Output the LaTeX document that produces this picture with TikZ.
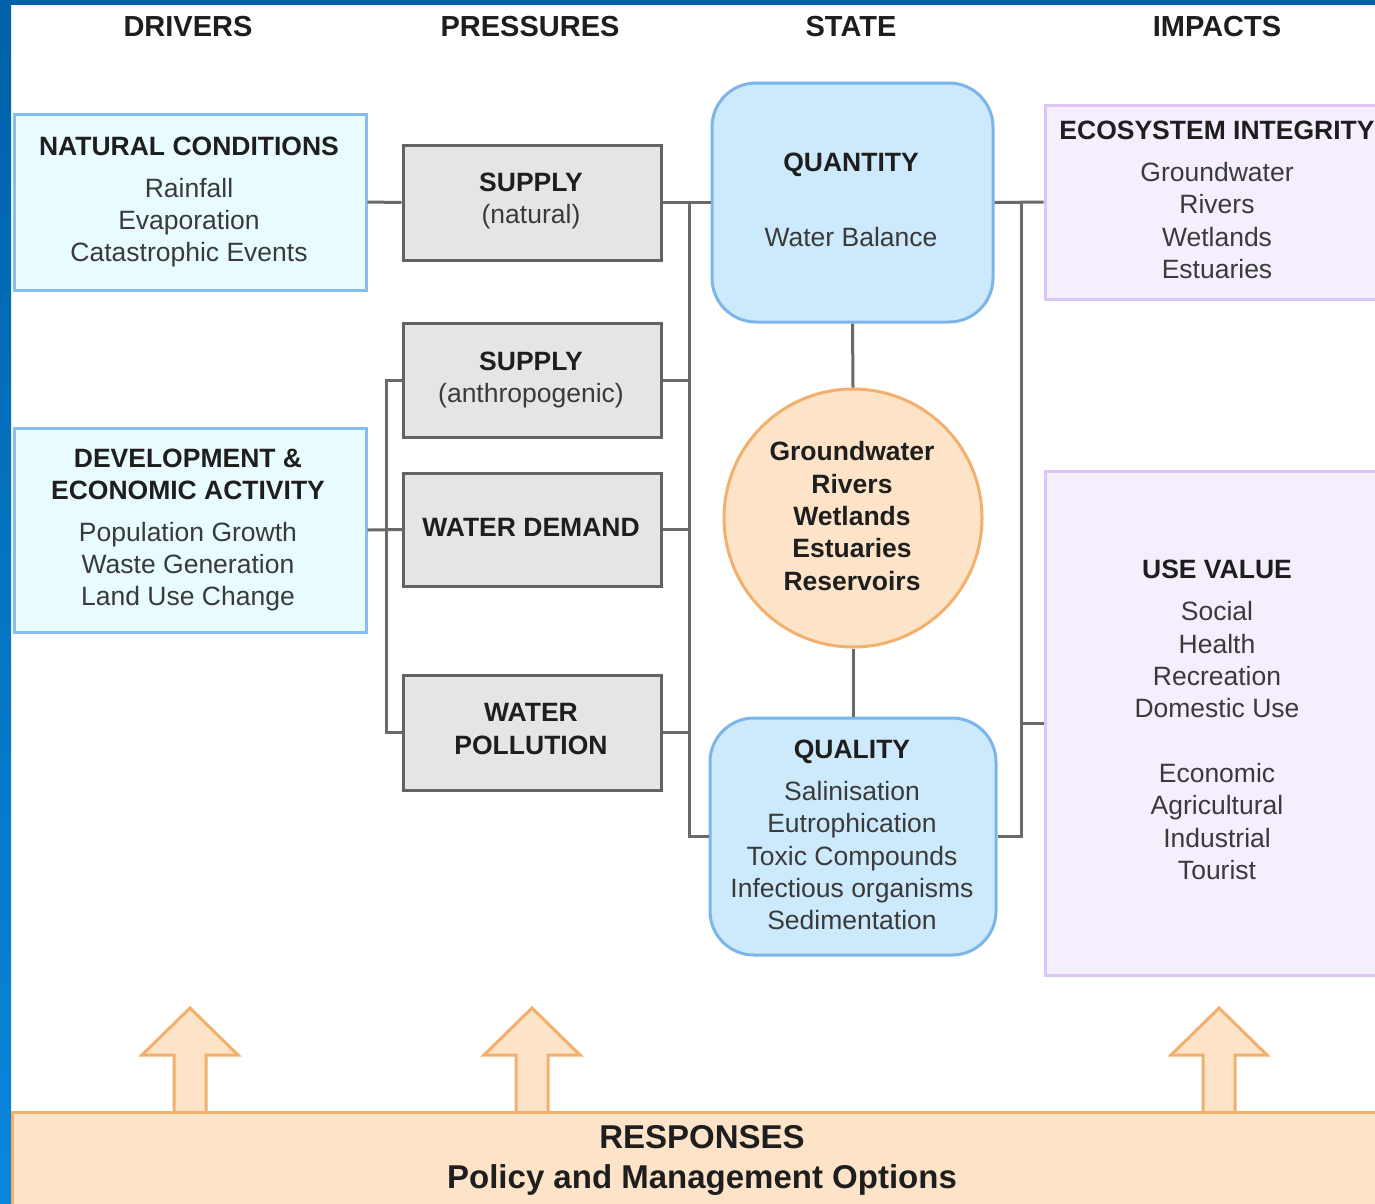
\documentclass[tikz,border=0pt]{standalone}
\usepackage{fontspec}
\setmainfont{Liberation Sans}
\definecolor{frameA}{HTML}{0062AA}
\definecolor{frameB}{HTML}{0A86DC}
\definecolor{ink}{HTML}{1E1E1E}
\definecolor{txtgray}{HTML}{3A3A3A}
\definecolor{conncol}{HTML}{6A6A6A}
\definecolor{cyanfill}{HTML}{E8FBFF}
\definecolor{cyanline}{HTML}{86BEF0}
\definecolor{grayfill}{HTML}{E5E5E5}
\definecolor{grayline}{HTML}{636363}
\definecolor{bluefill}{HTML}{CCEAFC}
\definecolor{blueline}{HTML}{7CB5EA}
\definecolor{orfill}{HTML}{FDE4C8}
\definecolor{orline}{HTML}{F2B06C}
\definecolor{purfill}{HTML}{F5EEFD}
\definecolor{purline}{HTML}{DCC6F3}
\newcommand{\boxttl}[1]{{\bfseries\color{ink}#1}}
\begin{document}
\begin{tikzpicture}[x=1pt,y=-1pt,
  conn/.style={draw=conncol,line width=3pt},
  natbox/.style={draw=cyanline,fill=cyanfill,line width=3pt,inner sep=0pt,minimum width=352pt},
  presbox/.style={draw=grayline,fill=grayfill,line width=3pt,inner sep=0pt,minimum width=258pt},
  statebox/.style={draw=blueline,fill=bluefill,line width=3pt,rounded corners=44pt,inner sep=0pt},
  impbox/.style={draw=purline,fill=purfill,line width=3pt,inner sep=0pt,minimum width=350pt},
  txt/.style={align=center,inner sep=0pt,text=txtgray,font=\fontsize{26.5}{32.3}\selectfont},
  hdr/.style={inner sep=0pt,text=ink,font=\fontsize{29}{34}\selectfont\bfseries},
  uparrow/.style={draw=orline,fill=orfill,line width=3pt,line join=miter}]
\useasboundingbox (0,0) rectangle (1375,1203);
\begin{scope}
\clip (0,0) rectangle (1375,1203);
\fill[white] (0,0) rectangle (1375,1203);
% frame
\shade[top color=frameA,bottom color=frameB] (0,0) rectangle (11,1203);
\fill[frameA] (0,0) rectangle (1375,5);
% headers
\node[hdr] (hdrv) at (188,27) {DRIVERS};
\node[hdr] (hprs) at (530,27) {PRESSURES};
\node[hdr] (hsta) at (851,27) {STATE};
\node[hdr] (himp) at (1217,27) {IMPACTS};
% drivers
\node[natbox,minimum height=176pt] (nat) at (190,202) {};
\node[natbox,minimum height=204pt] (dev) at (190,530) {};
% pressures
\node[presbox,minimum height=115pt] (supnat) at (532,202.5) {};
\node[presbox,minimum height=114pt] (supant) at (532,380) {};
\node[presbox,minimum height=113pt] (dem) at (532,529.5) {};
\node[presbox,minimum height=115pt] (poll) at (532,732.5) {};
% state
\node[statebox,minimum width=281pt,minimum height=239pt] (quant) at (852.5,202.5) {};
\node[circle,draw=orline,fill=orfill,line width=3pt,minimum size=258pt,inner sep=0pt] (circ) at (853,518) {};
\node[statebox,minimum width=286pt,minimum height=237pt] (qual) at (853,836.5) {};
% impacts
\node[impbox,minimum height=194pt] (eco) at (1220,202) {};
\node[impbox,minimum height=504pt] (use) at (1220,723) {};
% connectors
\draw[conn] (nat.east) -- (supnat.west);
\draw[conn] (dev.east) -- (dem.west);
\coordinate (busL) at (386,380);
\coordinate (busR) at (689,202);
\coordinate (busI) at (1021,202);
\draw[conn] (supant.west) -- (supant.west -| busL) |- (poll.west);
\draw[conn] (dem.west -| busL) -- (dem.west);
\draw[conn] (supnat.east) -- (quant.west);
\draw[conn] (supnat.east -| busR) |- (qual.west);
\draw[conn] (supant.east) -- (supant.east -| busR);
\draw[conn] (dem.east) -- (dem.east -| busR);
\draw[conn] (poll.east) -- (poll.east -| busR);
\draw[conn] (quant.east) -- (eco.west);
\draw[conn] (quant.east -| busI) |- (qual.east);
\draw[conn] (use.west -| busI) -- (use.west);
\draw[conn] (quant.south) -- (circ.north);
\draw[conn] (circ.south) -- (qual.north);
% texts
\node[txt] (tnat) at (189,202) {\boxttl{NATURAL CONDITIONS}\\[9.5pt]Rainfall\\Evaporation\\Catastrophic Events};
\node[txt] (tdev) at (188,530) {\boxttl{DEVELOPMENT \&}\\\boxttl{ECONOMIC ACTIVITY}\\[9.5pt]Population Growth\\Waste Generation\\Land Use Change};
\node[txt] (tsupnat) at (531,201) {\boxttl{SUPPLY}\\(natural)};
\node[txt] (tsupant) at (531,380) {\boxttl{SUPPLY}\\(anthropogenic)};
\node[txt] (tdem) at (531,527) {\boxttl{WATER DEMAND}};
\node[txt] (tpoll) at (531,729) {\boxttl{WATER}\\\boxttl{POLLUTION}};
\node[txt] (tquant) at (851,200) {\boxttl{QUANTITY}\\[42.7pt]Water Balance};
\node[txt,text=ink,font=\fontsize{26.5}{32.3}\selectfont\bfseries] (tcirc) at (852,516) {Groundwater\\Rivers\\Wetlands\\Estuaries\\Reservoirs};
\node[txt] (tqual) at (852,835) {\boxttl{QUALITY}\\[9.7pt]Salinisation\\Eutrophication\\Toxic Compounds\\Infectious organisms\\Sedimentation};
\node[txt] (teco) at (1217,200) {\boxttl{ECOSYSTEM INTEGRITY}\\[9.7pt]Groundwater\\Rivers\\Wetlands\\Estuaries};
\node[txt] (tuse) at (1217,720) {\boxttl{USE VALUE}\\[9.7pt]Social\\Health\\Recreation\\Domestic Use\\[32.3pt]Economic\\Agricultural\\Industrial\\Tourist};
% response arrows
\draw[uparrow] (174,1114) -- (174,1055) -- (142,1055) -- (190,1008) -- (238,1055) -- (206,1055) -- (206,1114) -- cycle;
\draw[uparrow] (516,1114) -- (516,1055) -- (484,1055) -- (532,1008) -- (580,1055) -- (548,1055) -- (548,1114) -- cycle;
\draw[uparrow] (1203,1114) -- (1203,1055) -- (1171,1055) -- (1219,1008) -- (1267,1055) -- (1235,1055) -- (1235,1114) -- cycle;
\node[draw=orline,fill=orfill,line width=3pt,minimum width=1388pt,minimum height=118pt,inner sep=0pt] (resp) at (706,1171) {};
\node[align=center,inner sep=0pt,text=ink,font=\fontsize{33}{40}\selectfont\bfseries] (tresp) at (702,1160) {RESPONSES\\Policy and Management Options};
\end{scope}
\end{tikzpicture}
\end{document}
